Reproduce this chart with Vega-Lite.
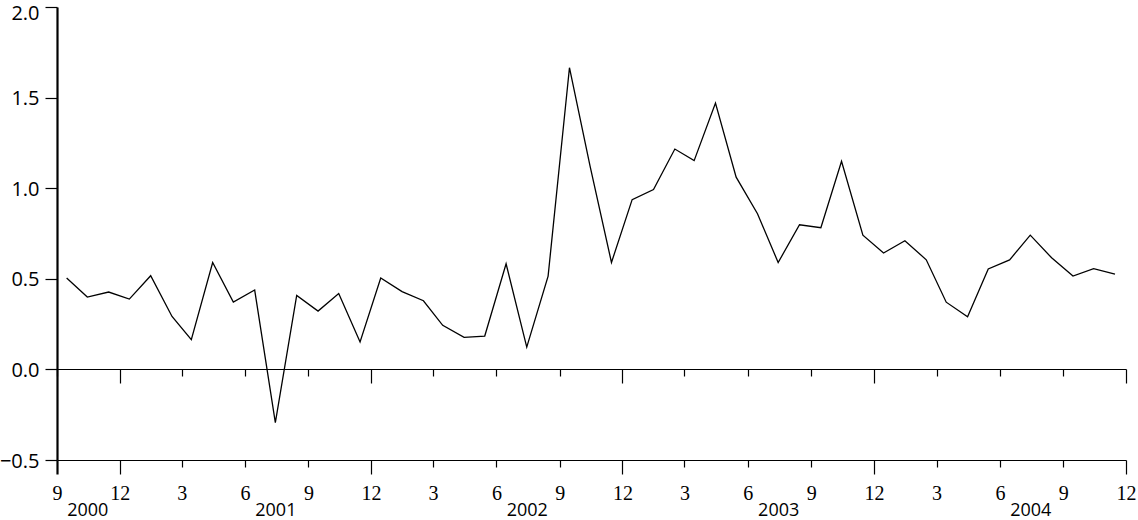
{
  "$schema": "https://vega.github.io/schema/vega-lite/v6.json",
  "width": 1069,
  "height": 453,
  "autosize": "none",
  "padding": {"left": 57, "top": 7, "right": 12, "bottom": 60},
  "background": "white",
  "config": {"view": {"stroke": null}},
  "data": {"values": [
    {"d": "2000-09-15", "v": 0.504},
    {"d": "2000-10-15", "v": 0.399},
    {"d": "2000-11-15", "v": 0.427},
    {"d": "2000-12-15", "v": 0.388},
    {"d": "2001-01-15", "v": 0.517},
    {"d": "2001-02-15", "v": 0.292},
    {"d": "2001-03-15", "v": 0.164},
    {"d": "2001-04-15", "v": 0.590},
    {"d": "2001-05-15", "v": 0.372},
    {"d": "2001-06-15", "v": 0.438},
    {"d": "2001-07-15", "v": -0.294},
    {"d": "2001-08-15", "v": 0.408},
    {"d": "2001-09-15", "v": 0.322},
    {"d": "2001-10-15", "v": 0.419},
    {"d": "2001-11-15", "v": 0.151},
    {"d": "2001-12-15", "v": 0.504},
    {"d": "2002-01-15", "v": 0.429},
    {"d": "2002-02-15", "v": 0.379},
    {"d": "2002-03-15", "v": 0.243},
    {"d": "2002-04-15", "v": 0.177},
    {"d": "2002-05-15", "v": 0.184},
    {"d": "2002-06-15", "v": 0.583},
    {"d": "2002-07-15", "v": 0.123},
    {"d": "2002-08-15", "v": 0.515},
    {"d": "2002-09-15", "v": 1.665},
    {"d": "2002-10-15", "v": 1.12},
    {"d": "2002-11-15", "v": 0.590},
    {"d": "2002-12-15", "v": 0.937},
    {"d": "2003-01-15", "v": 0.993},
    {"d": "2003-02-15", "v": 1.216},
    {"d": "2003-03-15", "v": 1.152},
    {"d": "2003-04-15", "v": 1.470},
    {"d": "2003-05-15", "v": 1.061},
    {"d": "2003-06-15", "v": 0.859},
    {"d": "2003-07-15", "v": 0.590},
    {"d": "2003-08-15", "v": 0.798},
    {"d": "2003-09-15", "v": 0.782},
    {"d": "2003-10-15", "v": 1.148},
    {"d": "2003-11-15", "v": 0.741},
    {"d": "2003-12-15", "v": 0.642},
    {"d": "2004-01-15", "v": 0.710},
    {"d": "2004-02-15", "v": 0.605},
    {"d": "2004-03-15", "v": 0.371},
    {"d": "2004-04-15", "v": 0.291},
    {"d": "2004-05-15", "v": 0.554},
    {"d": "2004-06-15", "v": 0.604},
    {"d": "2004-07-15", "v": 0.741},
    {"d": "2004-08-15", "v": 0.616},
    {"d": "2004-09-15", "v": 0.515},
    {"d": "2004-10-15", "v": 0.556},
    {"d": "2004-11-15", "v": 0.526}
  ]},
  "encoding": {
    "y": {
      "field": "v", "type": "quantitative",
      "scale": {"domain": [-0.5, 2.0], "nice": false, "zero": false},
      "axis": {
        "values": [-0.5, 0, 0.5, 1, 1.5, 2],
        "labelExpr": "datum.value < 0 ? '−' + format(-datum.value, '.1f') : format(datum.value, '.1f')",
        "title": null, "grid": false,
        "domainColor": "black", "domainWidth": 2.2,
        "tickColor": "black", "tickSize": 12, "tickWidth": 1.2,
        "labelFont": "Open Sans", "labelFontSize": 20, "labelPadding": 6,
        "labelOffset": {"condition": {"test": "datum.value == 2", "value": 6}, "value": 1},
        "labelColor": "black"
      }
    }
  },
  "layer": [
    {
      "mark": {"type": "line", "strokeOpacity": 0},
      "encoding": {
        "x": {
          "field": "d", "type": "temporal",
          "scale": {"type": "utc", "domain": [{"year": 2000, "month": 9, "date": 1, "utc": true}, {"year": 2004, "month": 12, "date": 1, "utc": true}]},
          "axis": {
            "orient": "bottom", "offset": -91, "title": null, "grid": false, "labels": false,
            "values": [
              {"year": 2000, "month": 9, "date": 1, "utc": true},
              {"year": 2000, "month": 12, "date": 1, "utc": true},
              {"year": 2001, "month": 3, "date": 1, "utc": true},
              {"year": 2001, "month": 6, "date": 1, "utc": true},
              {"year": 2001, "month": 9, "date": 1, "utc": true},
              {"year": 2001, "month": 12, "date": 1, "utc": true},
              {"year": 2002, "month": 3, "date": 1, "utc": true},
              {"year": 2002, "month": 6, "date": 1, "utc": true},
              {"year": 2002, "month": 9, "date": 1, "utc": true},
              {"year": 2002, "month": 12, "date": 1, "utc": true},
              {"year": 2003, "month": 3, "date": 1, "utc": true},
              {"year": 2003, "month": 6, "date": 1, "utc": true},
              {"year": 2003, "month": 9, "date": 1, "utc": true},
              {"year": 2003, "month": 12, "date": 1, "utc": true},
              {"year": 2004, "month": 3, "date": 1, "utc": true},
              {"year": 2004, "month": 6, "date": 1, "utc": true},
              {"year": 2004, "month": 9, "date": 1, "utc": true},
              {"year": 2004, "month": 12, "date": 1, "utc": true}
            ],
            "domainColor": "black", "domainWidth": 1.2,
            "tickColor": "black", "tickWidth": 1.2,
            "tickSize": {"condition": {"test": "utcmonth(datum.value) == 11", "value": 14}, "value": 7}
          }
        }
      }
    },
    {
      "mark": {"type": "line", "color": "black", "strokeWidth": 1.3},
      "encoding": {
        "x": {
          "field": "d", "type": "temporal",
          "scale": {"type": "utc", "domain": [{"year": 2000, "month": 9, "date": 1, "utc": true}, {"year": 2004, "month": 12, "date": 1, "utc": true}]},
          "axis": {
            "orient": "bottom", "title": null, "grid": false,
            "values": [
              {"year": 2000, "month": 9, "date": 1, "utc": true},
              {"year": 2000, "month": 10, "date": 15, "utc": true},
              {"year": 2000, "month": 12, "date": 1, "utc": true},
              {"year": 2001, "month": 3, "date": 1, "utc": true},
              {"year": 2001, "month": 6, "date": 1, "utc": true},
              {"year": 2001, "month": 7, "date": 15, "utc": true},
              {"year": 2001, "month": 9, "date": 1, "utc": true},
              {"year": 2001, "month": 12, "date": 1, "utc": true},
              {"year": 2002, "month": 3, "date": 1, "utc": true},
              {"year": 2002, "month": 6, "date": 1, "utc": true},
              {"year": 2002, "month": 7, "date": 15, "utc": true},
              {"year": 2002, "month": 9, "date": 1, "utc": true},
              {"year": 2002, "month": 12, "date": 1, "utc": true},
              {"year": 2003, "month": 3, "date": 1, "utc": true},
              {"year": 2003, "month": 6, "date": 1, "utc": true},
              {"year": 2003, "month": 7, "date": 15, "utc": true},
              {"year": 2003, "month": 9, "date": 1, "utc": true},
              {"year": 2003, "month": 12, "date": 1, "utc": true},
              {"year": 2004, "month": 3, "date": 1, "utc": true},
              {"year": 2004, "month": 6, "date": 1, "utc": true},
              {"year": 2004, "month": 7, "date": 15, "utc": true},
              {"year": 2004, "month": 9, "date": 1, "utc": true},
              {"year": 2004, "month": 12, "date": 1, "utc": true}
            ],
            "domainColor": "black", "domainWidth": 1.2,
            "tickColor": "black",
            "tickSize": {"condition": {"test": "utcmonth(datum.value) == 11 || (utcyear(datum.value) == 2000 && utcmonth(datum.value) == 8)", "value": 14}, "value": 7},
            "tickOpacity": {"condition": {"test": "utcdate(datum.value) == 15", "value": 0}, "value": 1},
            "tickWidth": {"condition": {"test": "utcyear(datum.value) == 2000 && utcmonth(datum.value) == 8", "value": 2.2}, "value": 1.2},
            "labelExpr": "utcdate(datum.value) == 15 ? '' + utcyear(datum.value) : '' + (utcmonth(datum.value) + 1)",
            "labelPadding": {"condition": [
              {"test": "utcdate(datum.value) == 15", "value": 48},
              {"test": "utcmonth(datum.value) == 11 || (utcyear(datum.value) == 2000 && utcmonth(datum.value) == 8)", "value": 25}
            ], "value": 32},
            "labelFont": {"condition": {"test": "utcdate(datum.value) == 15", "value": "Open Sans"}, "value": "Liberation Serif"},
            "labelFontSize": {"condition": {"test": "utcdate(datum.value) == 15", "value": 18}, "value": 20},
            "labelBaseline": "alphabetic",
            "labelAlign": "center",
            "labelFlush": false,
            "labelOverlap": false,
            "labelBound": false,
            "labelColor": "black"
          }
        }
      }
    }
  ],
  "resolve": {"axis": {"x": "independent"}}
}
